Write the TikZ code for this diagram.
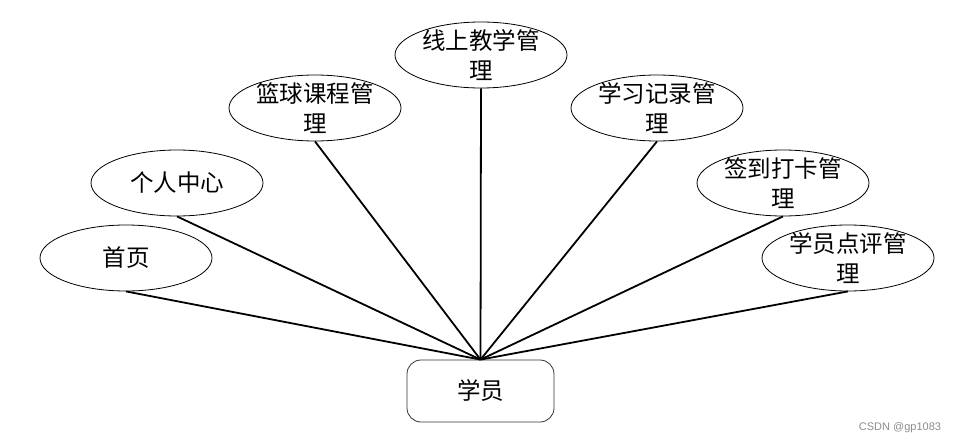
\documentclass[tikz,border=0pt]{standalone}
\usepackage{fontspec}
\newfontfamily\cjk{Noto Sans CJK SC}
\newfontfamily\wm{Liberation Sans}
\usetikzlibrary{shapes.geometric}
\begin{document}
\begin{tikzpicture}[x=1pt,y=-1pt,
  ell/.style={draw, ellipse, line width=0.8pt, minimum width=172pt, minimum height=66pt, inner sep=0pt},
  lbl/.style={font=\cjk\fontsize{23.5}{30}\selectfont, align=center, inner sep=0pt},
  hub/.style={draw=black!80, rounded corners=14pt, line width=0.8pt, minimum width=147pt, minimum height=62pt, inner sep=0pt},
  conn/.style={line width=1.8pt}]
\useasboundingbox (0,0) rectangle (958,444);
\node[ell] (e1) at (126,258) {};
\node[ell] (e2) at (177,183) {};
\node[ell] (e3) at (315,108) {};
\node[ell] (e4) at (481,55) {};
\node[ell] (e5) at (657,108) {};
\node[ell] (e6) at (783,183) {};
\node[ell] (e7) at (848,258) {};
\node[lbl] (t1) at (e1.center) {首页};
\node[lbl] (t2) at (e2.center) {个人中心};
\node[lbl] (t3) at (e3.center) {篮球课程管\\理};
\node[lbl] (t4) at (e4.center) {线上教学管\\理};
\node[lbl] (t5) at (e5.center) {学习记录管\\理};
\node[lbl] (t6) at (e6.center) {签到打卡管\\理};
\node[lbl] (t7) at (e7.center) {学员点评管\\理};
\node[hub] (h) at (480.5,391) {};
\node[lbl] (ht) at (h.center) {学员};
\foreach \e in {e1,e2,e3,e4,e5,e6,e7}
  \draw[conn] (h.north) -- (\e.south);
\node[font=\wm\fontsize{11}{13}\selectfont, text=black!45, inner sep=0pt] (w) at (900,428) {CSDN @gp1083};
\end{tikzpicture}
\end{document}
